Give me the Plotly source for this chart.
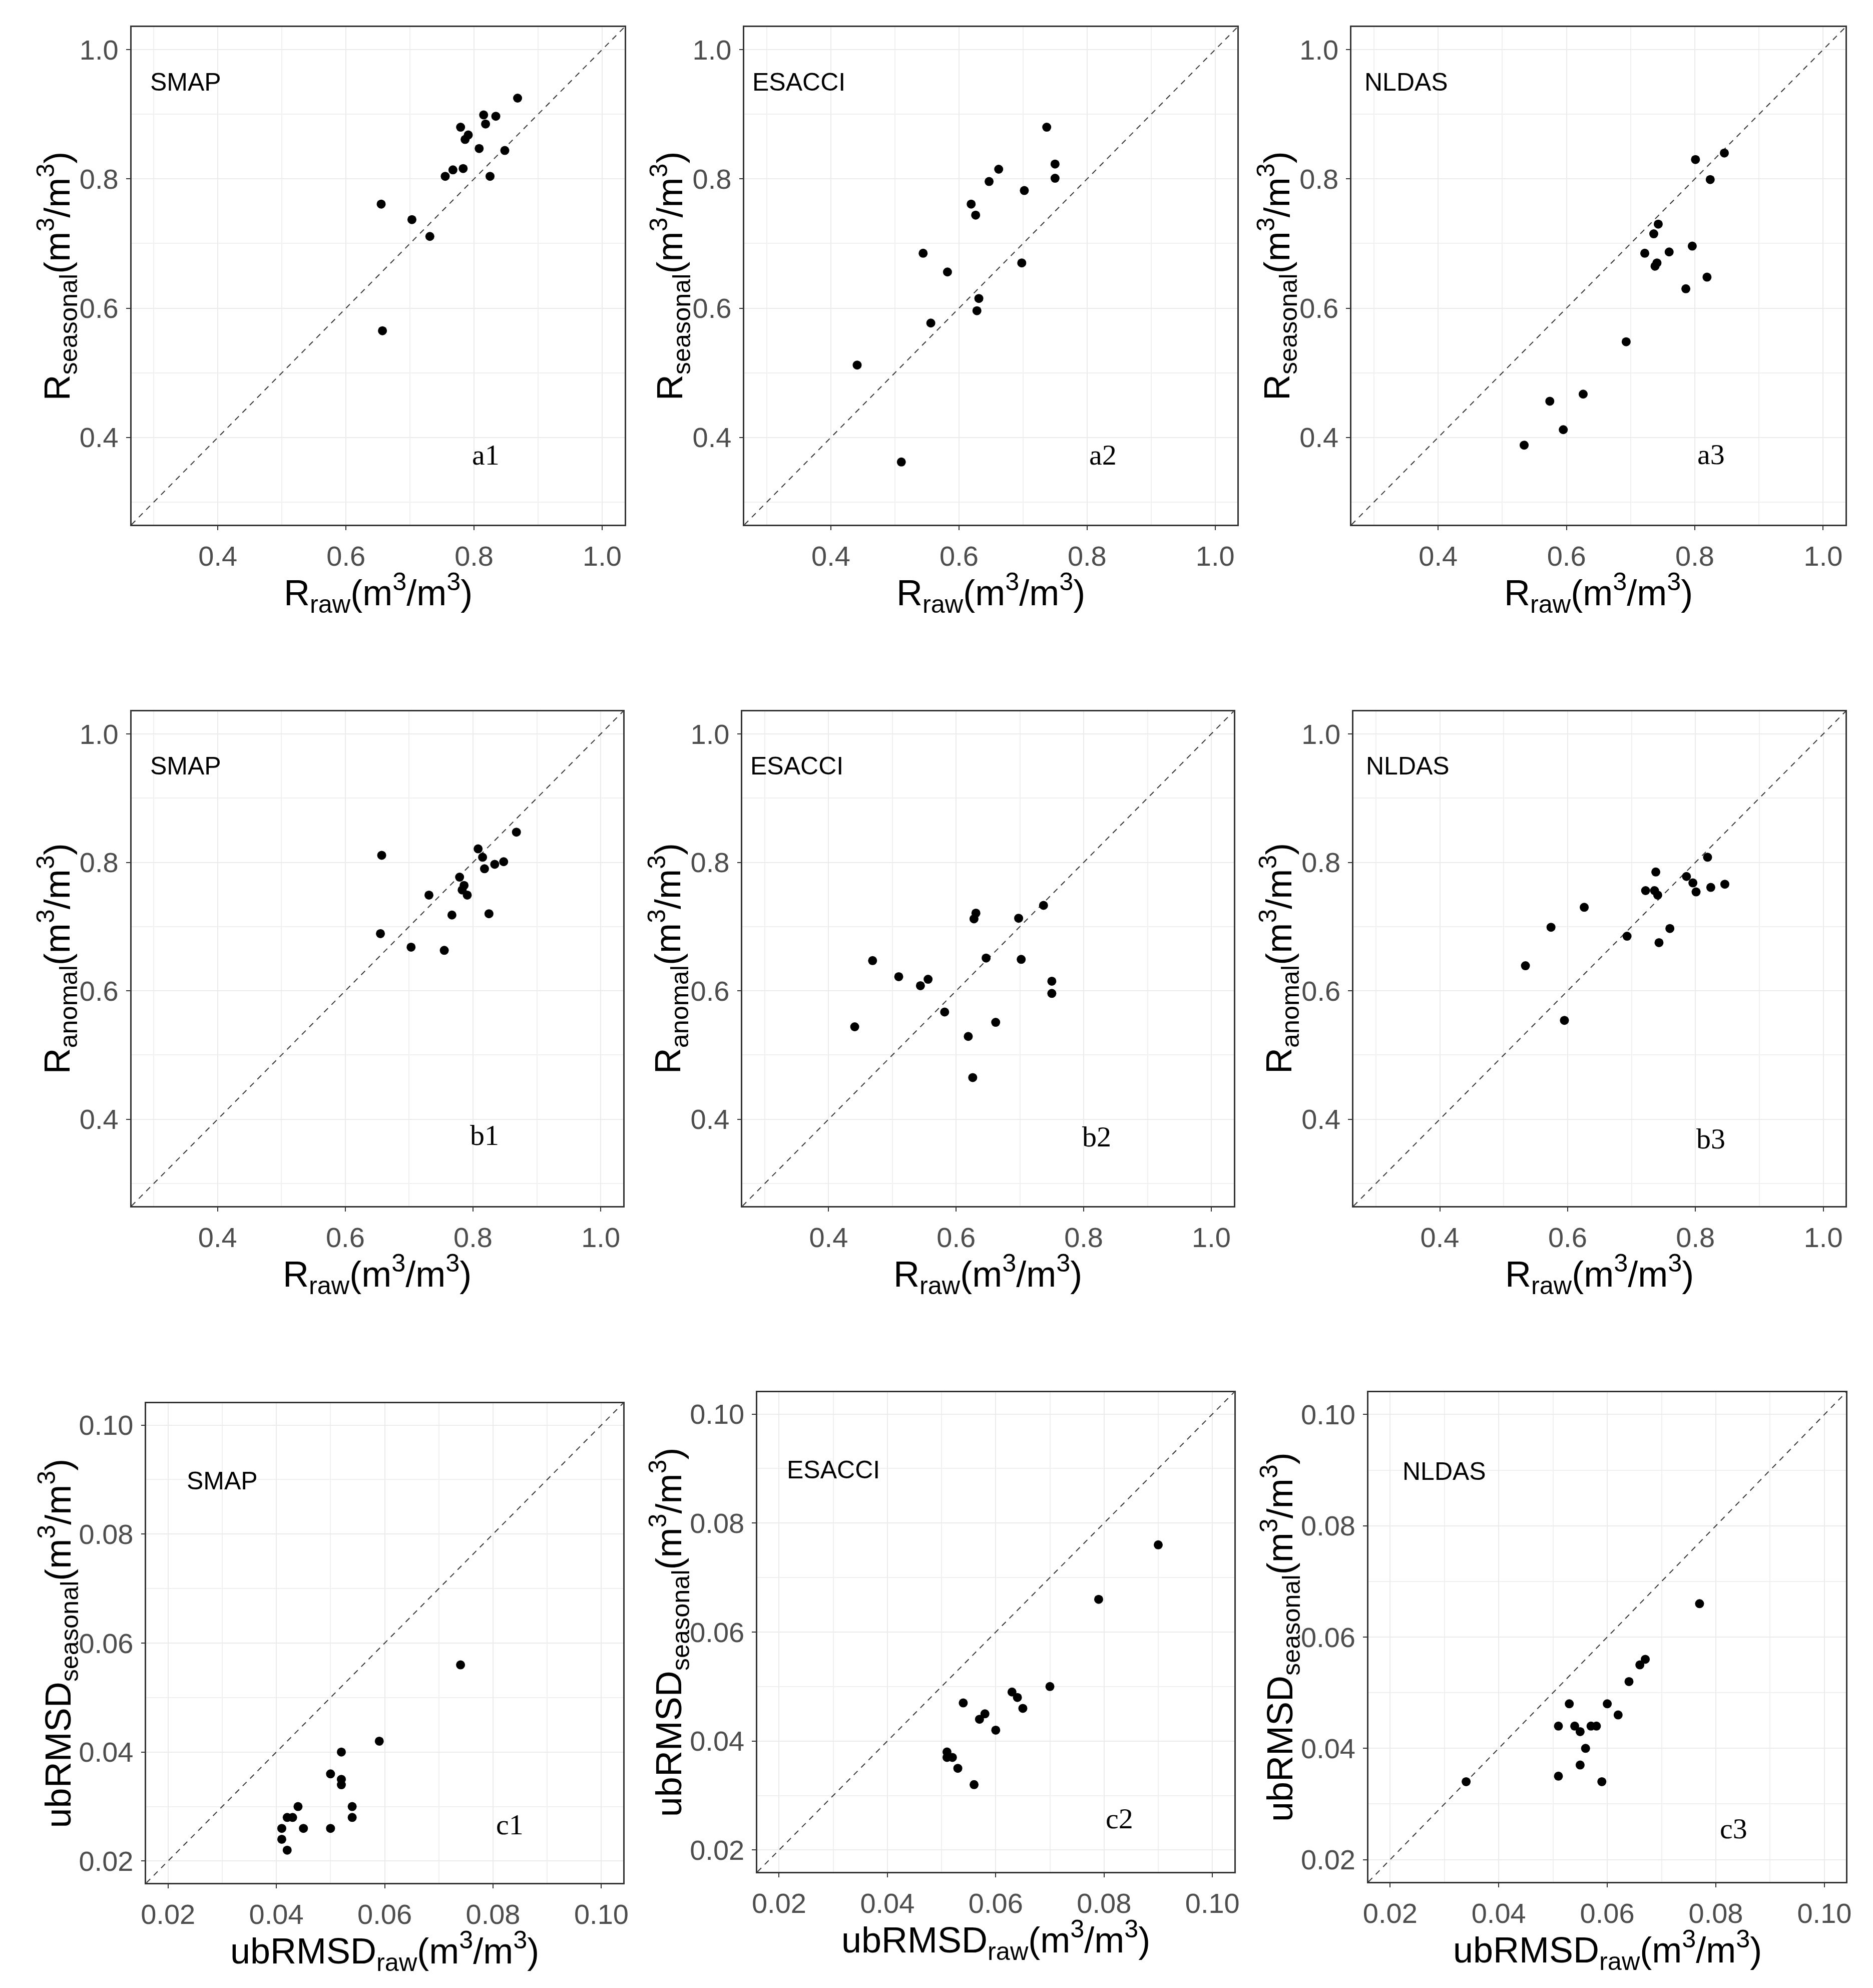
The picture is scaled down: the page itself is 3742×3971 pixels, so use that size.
import plotly.graph_objects as go

# ---- data ----
SMAP_R_RAW = [0.868, 0.815, 0.834, 0.818, 0.779, 0.791, 0.786, 0.808, 0.848, 0.767, 0.783, 0.755, 0.825, 0.655, 0.703, 0.731, 0.657]
SMAP_R_SEASONAL = [0.925, 0.899, 0.897, 0.885, 0.880, 0.868, 0.861, 0.847, 0.844, 0.814, 0.816, 0.804, 0.804, 0.761, 0.737, 0.711, 0.565]
SMAP_R_ANOMAL = [0.847, 0.808, 0.797, 0.790, 0.777, 0.749, 0.764, 0.821, 0.801, 0.718, 0.757, 0.663, 0.720, 0.689, 0.668, 0.749, 0.811]

ESACCI_R_RAW = [0.737, 0.750, 0.750, 0.662, 0.647, 0.702, 0.619, 0.626, 0.628, 0.631, 0.544, 0.582, 0.698, 0.556, 0.441, 0.510, 0.469]
ESACCI_R_SEASONAL = [0.880, 0.823, 0.801, 0.815, 0.796, 0.782, 0.761, 0.744, 0.596, 0.615, 0.685, 0.656, 0.670, 0.577, 0.512, 0.362, None]
ESACCI_R_ANOMAL = [0.733, 0.615, 0.596, 0.551, 0.651, 0.649, 0.529, 0.465, 0.712, 0.721, 0.608, 0.567, 0.713, 0.618, 0.544, 0.622, 0.647]

NLDAS_R_RAW = [0.846, 0.801, 0.824, 0.743, 0.736, 0.796, 0.722, 0.760, 0.741, 0.738, 0.819, 0.786, 0.693, 0.626, 0.574, 0.595, 0.534]
NLDAS_R_SEASONAL = [0.840, 0.830, 0.799, 0.730, 0.715, 0.696, 0.685, 0.687, 0.670, 0.665, 0.648, 0.630, 0.548, 0.467, 0.456, 0.412, 0.388]
NLDAS_R_ANOMAL = [0.766, 0.754, 0.761, 0.675, 0.756, 0.768, 0.756, 0.697, 0.749, 0.785, 0.808, 0.778, 0.685, 0.730, 0.699, 0.554, 0.639]

SMAP_UB_RAW = [0.074, 0.059, 0.052, 0.050, 0.052, 0.052, 0.054, 0.054, 0.044, 0.042, 0.043, 0.045, 0.050, 0.041, 0.041, 0.042]
SMAP_UB_SEASONAL = [0.056, 0.042, 0.040, 0.036, 0.035, 0.034, 0.030, 0.028, 0.030, 0.028, 0.028, 0.026, 0.026, 0.026, 0.024, 0.022]

ESACCI_UB_RAW = [0.090, 0.079, 0.070, 0.063, 0.064, 0.065, 0.054, 0.058, 0.057, 0.060, 0.051, 0.051, 0.052, 0.053, 0.056]
ESACCI_UB_SEASONAL = [0.076, 0.066, 0.050, 0.049, 0.048, 0.046, 0.047, 0.045, 0.044, 0.042, 0.038, 0.037, 0.037, 0.035, 0.032]

NLDAS_UB_RAW = [0.077, 0.067, 0.066, 0.064, 0.053, 0.060, 0.062, 0.051, 0.054, 0.055, 0.057, 0.058, 0.056, 0.055, 0.051, 0.059, 0.034]
NLDAS_UB_SEASONAL = [0.066, 0.056, 0.055, 0.052, 0.048, 0.048, 0.046, 0.044, 0.044, 0.043, 0.044, 0.044, 0.040, 0.037, 0.035, 0.034, 0.034]

R_TICKS = [0.4, 0.6, 0.8, 1.0]
R_MINOR = [0.3, 0.5, 0.7, 0.9]
UB_TICKS = [0.02, 0.04, 0.06, 0.08, 0.10]
UB_MINOR = [0.03, 0.05, 0.07, 0.09]

# ---- layout ----
W, H = 3742, 3971
R_RANGE = [0.265, 1.035]
UB_RANGE = [0.016, 0.104]

SANS = 'Liberation Sans, Arial, sans-serif'
SERIF = 'Liberation Serif, Times New Roman, serif'
UNIT = '(m<sup>3</sup>/m<sup>3</sup>)'

panels = [
    dict(tag='a1', box=(245, 46, 1236, 1040), x=SMAP_R_RAW, y=SMAP_R_SEASONAL, kind='R',
         xt='R<sub>raw</sub>', yt='R<sub>seasonal</sub>', src='SMAP', tag_xy=(0.818, 0.373)),
    dict(tag='a2', box=(1477, 46, 2468, 1040), x=ESACCI_R_RAW, y=ESACCI_R_SEASONAL, kind='R',
         xt='R<sub>raw</sub>', yt='R<sub>seasonal</sub>', src='ESACCI', tag_xy=(0.825, 0.373)),
    dict(tag='a3', box=(2697, 46, 3690, 1040), x=NLDAS_R_RAW, y=NLDAS_R_SEASONAL, kind='R',
         xt='R<sub>raw</sub>', yt='R<sub>seasonal</sub>', src='NLDAS', tag_xy=(0.825, 0.374)),
    dict(tag='b1', box=(245, 1413, 1233, 2401), x=SMAP_R_RAW, y=SMAP_R_ANOMAL, kind='R',
         xt='R<sub>raw</sub>', yt='R<sub>anomal</sub>', src='SMAP', tag_xy=(0.818, 0.375)),
    dict(tag='b2', box=(1473, 1413, 2460, 2401), x=ESACCI_R_RAW, y=ESACCI_R_ANOMAL, kind='R',
         xt='R<sub>raw</sub>', yt='R<sub>anomal</sub>', src='ESACCI', tag_xy=(0.82, 0.373)),
    dict(tag='b3', box=(2701, 1413, 3690, 2401), x=NLDAS_R_RAW, y=NLDAS_R_ANOMAL, kind='R',
         xt='R<sub>raw</sub>', yt='R<sub>anomal</sub>', src='NLDAS', tag_xy=(0.824, 0.37)),
    dict(tag='c1', box=(275, 2795, 1233, 3753), x=SMAP_UB_RAW, y=SMAP_UB_SEASONAL, kind='UB',
         xt='ubRMSD<sub>raw</sub>', yt='ubRMSD<sub>seasonal</sub>', src='SMAP', tag_xy=(0.0831, 0.0267)),
    dict(tag='c2', box=(1503, 2773, 2461, 3731), x=ESACCI_UB_RAW, y=ESACCI_UB_SEASONAL, kind='UB',
         xt='ubRMSD<sub>raw</sub>', yt='ubRMSD<sub>seasonal</sub>', src='ESACCI', tag_xy=(0.0828, 0.0258)),
    dict(tag='c3', box=(2731, 2773, 3691, 3751), x=NLDAS_UB_RAW, y=NLDAS_UB_SEASONAL, kind='UB',
         xt='ubRMSD<sub>raw</sub>', yt='ubRMSD<sub>seasonal</sub>', src='NLDAS', tag_xy=(0.0833, 0.0256)),
]

fig = go.Figure()
layout = dict(
    width=W, height=H,
    margin=dict(l=0, r=0, t=0, b=0),
    paper_bgcolor='white', plot_bgcolor='white',
    showlegend=False,
    font=dict(family=SANS, color='black'),
)
annotations = []

for i, p in enumerate(panels, start=1):
    x0, y0, x1, y1 = p['box']
    xa = 'xaxis' if i == 1 else f'xaxis{i}'
    ya = 'yaxis' if i == 1 else f'yaxis{i}'
    xr = 'x' if i == 1 else f'x{i}'
    yr = 'y' if i == 1 else f'y{i}'
    if p['kind'] == 'R':
        rng, ticks, minor, fmt = R_RANGE, R_TICKS, R_MINOR, '.1f'
        src_xy = (0.35, 0.95)
    else:
        rng, ticks, minor, fmt = UB_RANGE, UB_TICKS, UB_MINOR, '.2f'
        src_xy = (0.030, 0.0898)

    common = dict(
        range=rng, tickvals=ticks, tickformat=fmt,
        showgrid=True, gridcolor='#EBEBEB', gridwidth=2,
        minor=dict(tickvals=minor, showgrid=True, gridcolor='#F0F0F0', gridwidth=1.5, ticks=''),
        showline=True, linecolor='#333333', linewidth=2.5, mirror=True,
        ticks='outside', ticklen=8, tickwidth=2, tickcolor='#333333',
        tickfont=dict(family=SANS, size=56, color='#4D4D4D'),
        zeroline=False,
    )
    layout[xa] = dict(common, domain=[x0 / W, x1 / W], anchor=yr, ticklabelstandoff=4)
    layout[ya] = dict(common, domain=[1 - y1 / H, 1 - y0 / H], anchor=xr, ticklabelstandoff=4)

    # 1:1 reference line across the whole panel
    fig.add_trace(go.Scatter(
        x=rng, y=rng, mode='lines', xaxis=xr, yaxis=yr,
        line=dict(color='#333333', width=2, dash='11px,10px'),
        hoverinfo='skip',
    ))
    fig.add_trace(go.Scatter(
        x=p['x'], y=p['y'], mode='markers', xaxis=xr, yaxis=yr,
        marker=dict(color='black', size=18),
    ))

    annotations.append(dict(
        x=src_xy[0], y=src_xy[1], xref=xr, yref=yr, text=p['src'], showarrow=False,
        font=dict(family=SANS, size=50, color='black'), xanchor='center', yanchor='middle',
    ))
    annotations.append(dict(
        x=p['tag_xy'][0], y=p['tag_xy'][1], xref=xr, yref=yr, text=p['tag'], showarrow=False,
        font=dict(family=SERIF, size=58, color='black'), xanchor='center', yanchor='middle',
    ))
    # axis titles
    annotations.append(dict(
        x=(x0 + x1) / 2 / W, y=1 - (y1 + 136) / H, xref='paper', yref='paper',
        text=p['xt'] + UNIT, showarrow=False, xanchor='center', yanchor='middle',
        font=dict(family=SANS, size=72, color='black'),
    ))
    yoff = 150 if p['kind'] == 'R' else 178
    annotations.append(dict(
        x=(x0 - yoff) / W, y=1 - (y0 + y1) / 2 / H, xref='paper', yref='paper',
        text=p['yt'] + UNIT, showarrow=False, xanchor='center', yanchor='middle',
        textangle=-90, font=dict(family=SANS, size=72, color='black'),
    ))

layout['annotations'] = annotations
fig.update_layout(**layout)
fig.write_html("out.html")
